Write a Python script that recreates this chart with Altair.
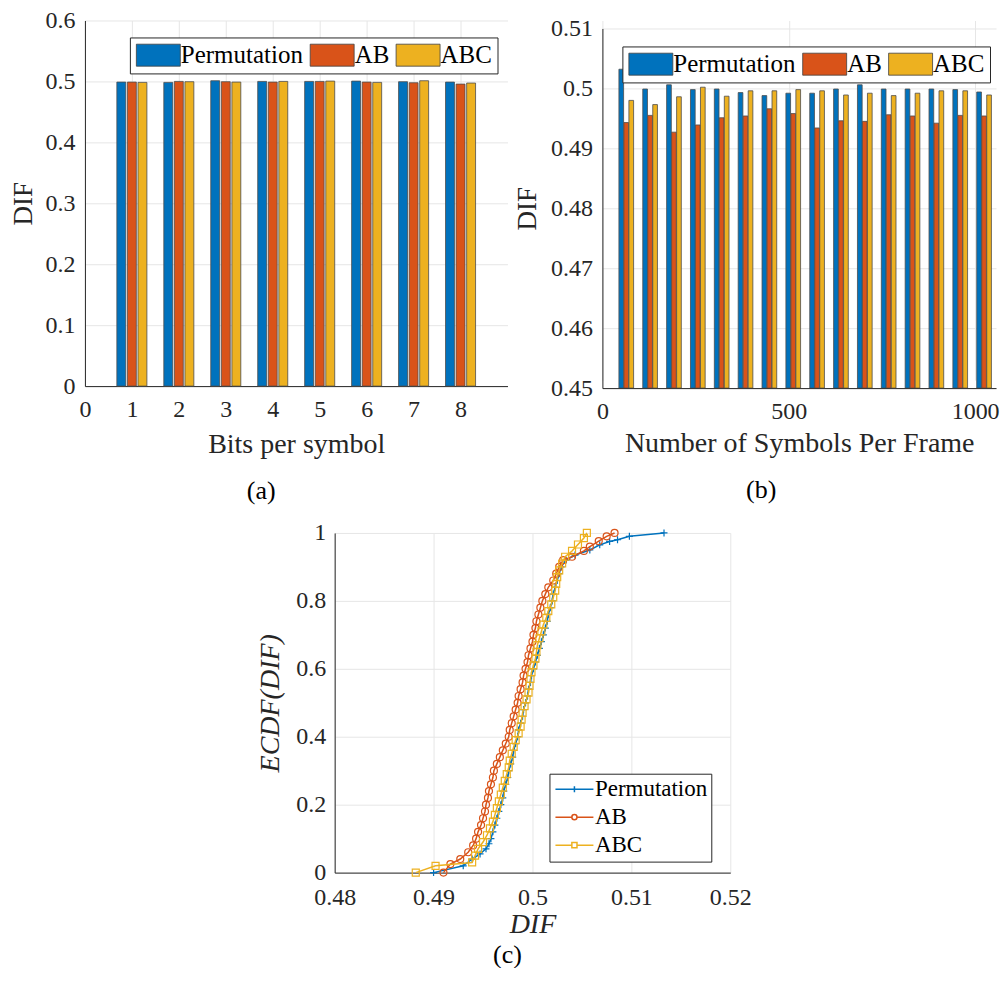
import altair as alt
import pandas as pd

FONT = "Liberation Serif"
series = ["Permutation", "AB", "ABC"]
colors = ["#0072BD", "#D95319", "#EDB120"]

# ---------- panel (a) ----------
bits = [1, 2, 3, 4, 5, 6, 7, 8]
a_perm = [0.4989, 0.4984, 0.5011, 0.5000, 0.5000, 0.5005, 0.4995, 0.4989]
a_ab = [0.4989, 0.5000, 0.4995, 0.4989, 0.5000, 0.4989, 0.4978, 0.4956]
a_abc = [0.4984, 0.4995, 0.4989, 0.5000, 0.5005, 0.4984, 0.5011, 0.4973]

# ---------- panel (b) ----------
symbols = [64, 128, 192, 256, 320, 384, 448, 512, 576, 640, 704, 768, 832, 896, 960, 1024]
b_perm = [0.5032, 0.4999, 0.5006, 0.4998, 0.4999, 0.4993, 0.4988, 0.4992,
          0.4992, 0.4999, 0.5006, 0.4999, 0.4999, 0.4999, 0.4998, 0.4994]
b_ab = [0.4943, 0.4955, 0.4927, 0.4939, 0.4951, 0.4954, 0.4966, 0.4958,
        0.4934, 0.4946, 0.4945, 0.4956, 0.4954, 0.4942, 0.4955, 0.4954]
b_abc = [0.4980, 0.4973, 0.4986, 0.5002, 0.4987, 0.4996, 0.4996, 0.4998,
         0.4996, 0.4989, 0.4992, 0.4988, 0.4992, 0.4996, 0.4996, 0.4989]

# ---------- panel (c) ----------
c_perm_dif = [0.4900, 0.4930, 0.4939, 0.4947, 0.4953, 0.4956, 0.4958, 0.4960, 0.4962, 0.4964,
              0.4966, 0.4968, 0.4970, 0.4971, 0.4973, 0.4975, 0.4976, 0.4978, 0.4980, 0.4981,
              0.4983, 0.4985, 0.4986, 0.4988, 0.4990, 0.4991, 0.4993, 0.4995, 0.4996, 0.4998,
              0.4999, 0.5001, 0.5003, 0.5005, 0.5007, 0.5009, 0.5011, 0.5013, 0.5015, 0.5016,
              0.5018, 0.5020, 0.5021, 0.5023, 0.5025, 0.5027, 0.5029, 0.5034, 0.5043, 0.5058,
              0.5068, 0.5078, 0.5086, 0.5098, 0.5133]
c_perm_f = [0.0, 0.02, 0.04, 0.055, 0.07, 0.085, 0.10, 0.12, 0.14, 0.16,
            0.18, 0.20, 0.22, 0.24, 0.26, 0.28, 0.30, 0.32, 0.34, 0.36,
            0.38, 0.40, 0.42, 0.44, 0.46, 0.48, 0.50, 0.52, 0.54, 0.56,
            0.58, 0.60, 0.62, 0.64, 0.66, 0.68, 0.70, 0.72, 0.74, 0.76,
            0.78, 0.80, 0.82, 0.84, 0.86, 0.88, 0.90, 0.92, 0.935, 0.95,
            0.965, 0.975, 0.98, 0.99, 1.0]
c_ab_dif = [0.4910, 0.4917, 0.4927, 0.4935, 0.4940, 0.4943, 0.4945, 0.4948, 0.4950, 0.4952,
            0.4953, 0.4955, 0.4956, 0.4958, 0.4960, 0.4961, 0.4964, 0.4967, 0.4970, 0.4973,
            0.4976, 0.4977, 0.4979, 0.4981, 0.4983, 0.4985, 0.4986, 0.4988, 0.4990, 0.4991,
            0.4993, 0.4995, 0.4996, 0.4998, 0.5000, 0.5001, 0.5003, 0.5004, 0.5006, 0.5008,
            0.5010, 0.5013, 0.5016, 0.5021, 0.5024, 0.5027, 0.5031, 0.5040, 0.5052, 0.5058,
            0.5067, 0.5075, 0.5083]
c_ab_f = [0.0, 0.025, 0.04, 0.06, 0.08, 0.10, 0.12, 0.14, 0.16, 0.18,
          0.20, 0.22, 0.24, 0.26, 0.28, 0.30, 0.32, 0.34, 0.36, 0.38,
          0.40, 0.42, 0.44, 0.46, 0.48, 0.50, 0.52, 0.54, 0.56, 0.58,
          0.60, 0.62, 0.64, 0.66, 0.68, 0.70, 0.72, 0.74, 0.76, 0.78,
          0.80, 0.82, 0.84, 0.86, 0.88, 0.90, 0.92, 0.93, 0.947, 0.96,
          0.976, 0.99, 1.0]
c_abc_dif = [0.4882, 0.4902, 0.4939, 0.4942, 0.4945, 0.4950, 0.4954, 0.4957, 0.4960, 0.4962,
             0.4964, 0.4966, 0.4968, 0.4970, 0.4972, 0.4974, 0.4976, 0.4977, 0.4979, 0.4981,
             0.4983, 0.4986, 0.4988, 0.4989, 0.4990, 0.4992, 0.4994, 0.4996, 0.4997, 0.4998,
             0.4999, 0.5001, 0.5003, 0.5004, 0.5005, 0.5007, 0.5009, 0.5011, 0.5014, 0.5016,
             0.5019, 0.5021, 0.5023, 0.5024, 0.5025, 0.5027, 0.5030, 0.5033, 0.5040, 0.5046,
             0.5052, 0.5055]
c_abc_f = [0.0, 0.02, 0.03, 0.05, 0.07, 0.09, 0.11, 0.13, 0.15, 0.17,
           0.19, 0.21, 0.23, 0.25, 0.27, 0.29, 0.31, 0.33, 0.35, 0.37,
           0.39, 0.41, 0.43, 0.45, 0.47, 0.49, 0.51, 0.53, 0.55, 0.57,
           0.59, 0.61, 0.63, 0.65, 0.67, 0.69, 0.71, 0.73, 0.75, 0.77,
           0.79, 0.81, 0.83, 0.85, 0.87, 0.89, 0.91, 0.93, 0.947, 0.966,
           0.985, 1.0]

# ---------- tables ----------
df_a = pd.concat([pd.DataFrame({"bits": bits, "dif": v, "series": s})
                  for s, v in zip(series, [a_perm, a_ab, a_abc])])
df_b = pd.concat([pd.DataFrame({"n": symbols, "dif": v, "series": s})
                  for s, v in zip(series, [b_perm, b_ab, b_abc])])
df_c = pd.concat([pd.DataFrame({"dif": d, "ecdf": f, "series": s})
                  for s, d, f in zip(series, [c_perm_dif, c_ab_dif, c_abc_dif],
                                     [c_perm_f, c_ab_f, c_abc_f])])

IDX = "indexof(['Permutation','AB','ABC'], datum.series) - 1"
rect_sym = "M-2,-1H2V1H-2Z"


def bar_legend(lx, ly):
    return alt.Legend(title=None, orient="none", legendX=lx, legendY=ly,
                      direction="horizontal", columns=3,
                      symbolType=rect_sym, symbolSize=484, symbolOffset=11,
                      labelOffset=10, symbolStrokeColor="#404040", symbolStrokeWidth=0.8,
                      symbolOpacity=1, labelFont=FONT, labelFontSize=25, labelColor="#000000",
                      strokeColor="#262626", fillColor="white", padding=5,
                      columnPadding=4, labelLimit=400)


def caption(txt, dx, offset):
    return alt.TitleParams(txt, orient="bottom", font=FONT, fontSize=26, fontWeight="normal",
                           color="#000000", dx=dx, offset=offset)


# panel (a)
chart_a = alt.Chart(df_a).transform_calculate(
    xc="datum.bits + (" + IDX + ") * 0.225"
).transform_calculate(
    x0="datum.xc - 0.095", x1="datum.xc + 0.095"
).mark_bar(stroke="#4d4d4d", strokeWidth=0.8).encode(
    x=alt.X("x0:Q", scale=alt.Scale(domain=[0, 9], nice=False),
            axis=alt.Axis(values=list(range(9)), title="Bits per symbol", format="d",
                          titleFontSize=28, labelPadding=11, titlePadding=9)),
    x2="x1:Q",
    y=alt.Y("dif:Q", scale=alt.Scale(domain=[0, 0.6], nice=False),
            axis=alt.Axis(values=[0, 0.1, 0.2, 0.3, 0.4, 0.5, 0.6], format="~g",
                          title="DIF", titleFontSize=27, labelPadding=10, titlePadding=7)),
    y2=alt.datum(0),
    color=alt.Color("series:N", scale=alt.Scale(domain=series, range=colors),
                    legend=bar_legend(45, 17)),
).properties(width=423, height=366, title=caption("(a)", -35, 20))

# panel (b)
chart_b = alt.Chart(df_b).transform_calculate(
    xc="datum.n + (" + IDX + ") * 13.4"
).transform_calculate(
    x0="datum.xc - 6.3", x1="datum.xc + 6.3"
).mark_bar(stroke="#4d4d4d", strokeWidth=0.8, clip=True).encode(
    x=alt.X("x0:Q", scale=alt.Scale(domain=[0, 1056], nice=False),
            axis=alt.Axis(values=[0, 500, 1000], format="d", title="Number of Symbols Per Frame",
                          titleFontSize=28, labelPadding=11, titlePadding=6)),
    x2="x1:Q",
    y=alt.Y("dif:Q", scale=alt.Scale(domain=[0.45, 0.51], range=[368, 8], nice=False, zero=False),
            axis=alt.Axis(values=[0.45, 0.46, 0.47, 0.48, 0.49, 0.5, 0.51], format="~g",
                          title="DIF", titleFontSize=27, labelPadding=10, titlePadding=9)),
    y2=alt.datum(0.45),
    color=alt.Color("series:N", scale=alt.Scale(domain=series, range=colors),
                    legend=bar_legend(20, 26)),
).properties(width=394, height=368, title=caption("(b)", -38, 20))

# panel (c)
marker_paths = ["M-1,0H1M0,-1V1", "circle", "square"]
leg_paths = ["M-2,0H2M0,-0.32V0.32",
             "M-2,0H-0.27A0.27,0.27 0 1,1 0.27,0A0.27,0.27 0 1,1 -0.27,0M0.27,0H2",
             "M-2,0H-0.27V-0.27H0.27V0.27H-0.27V0M0.27,0H2"]

xc_enc = alt.X("dif:Q", scale=alt.Scale(domain=[0.48, 0.52], nice=False),
               axis=alt.Axis(values=[0.48, 0.49, 0.5, 0.51, 0.52], format="~g", title="DIF",
                             titleFontStyle="italic", titleFontSize=28, labelPadding=13,
                             titlePadding=1))
yc_enc = alt.Y("ecdf:Q", scale=alt.Scale(domain=[0, 1], nice=False),
               axis=alt.Axis(values=[0, 0.2, 0.4, 0.6, 0.8, 1], format="~g", title="ECDF(DIF)",
                             titleFontStyle="italic", titleFontSize=28, labelPadding=9,
                             titlePadding=11))

base_c = alt.Chart(df_c)
layers = []
for s, col, mp in zip(series, colors, marker_paths):
    sub = base_c.transform_filter(alt.datum.series == s)
    layers.append(sub.mark_line(color=col, strokeWidth=1.5).encode(x=xc_enc, y=yc_enc, order="ecdf:Q"))
    layers.append(sub.mark_point(shape=mp, filled=False, color=col, size=49, strokeWidth=1.2,
                                 opacity=1).encode(x=xc_enc, y=yc_enc))

leg_c = alt.Legend(title=None, orient="none", legendX=215, legendY=241, direction="vertical",
                   symbolSize=361, symbolOffset=9.5, labelOffset=9, symbolStrokeWidth=1.5,
                   symbolOpacity=1, labelFont=FONT, labelFontSize=23, labelColor="#000000",
                   strokeColor="#262626", fillColor="white", padding=4, rowPadding=4,
                   labelLimit=400)
legend_layer = base_c.transform_filter("false").mark_point(filled=False).encode(
    x=xc_enc, y=yc_enc,
    color=alt.Color("series:N", scale=alt.Scale(domain=series, range=colors), legend=leg_c),
    shape=alt.Shape("series:N", scale=alt.Scale(domain=series, range=leg_paths), legend=leg_c),
)
layers.append(legend_layer)

chart_c = alt.layer(*layers).properties(width=396, height=340, title=caption("(c)", -25, 3))

spacer = alt.Chart(pd.DataFrame({"v": [0]})).mark_point(opacity=0).encode(
    x=alt.value(0), y=alt.value(0)).properties(width=200, height=10)

row1 = alt.hconcat(chart_a, chart_b, spacing=95, bounds="flush").resolve_scale(
    color="independent").resolve_legend(color="independent")
row2 = alt.hconcat(spacer, chart_c, spacing=50, bounds="flush").resolve_scale(
    color="independent", shape="independent").resolve_legend(color="independent", shape="independent")

chart = alt.vconcat(row1, row2, spacing=17).resolve_scale(
    color="independent", shape="independent"
).resolve_legend(color="independent", shape="independent").properties(
    padding={"left": 2, "top": 0, "right": 0, "bottom": 0}
).configure_view(stroke=None).configure_axis(
    labelFont=FONT, titleFont=FONT, labelFontSize=24, labelColor="#262626",
    titleColor="#262626", titleFontWeight="normal", domainColor="#262626",
    gridColor="#e6e6e6", ticks=False, labelFlush=False
)

chart.save("out.html", embed_options={"renderer": "svg", "actions": False})
